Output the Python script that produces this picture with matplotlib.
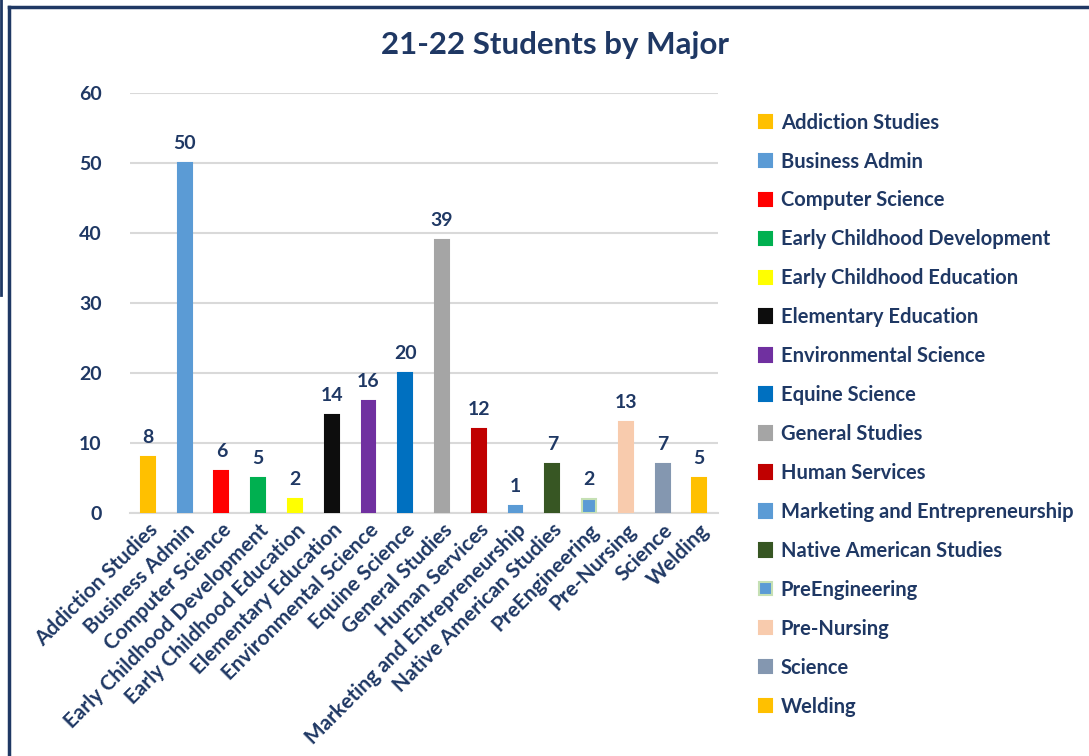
import numpy as np
import matplotlib.pyplot as plt
from matplotlib.patches import Rectangle
from matplotlib.lines import Line2D

# data
majors = ['Addiction Studies', 'Business Admin', 'Computer Science',
          'Early Childhood Development', 'Early Childhood Education',
          'Elementary Education', 'Environmental Science', 'Equine Science',
          'General Studies', 'Human Services', 'Marketing and Entrepreneurship',
          'Native American Studies', 'PreEngineering', 'Pre-Nursing',
          'Science', 'Welding']
students = [8, 50, 6, 5, 2, 14, 16, 20, 39, 12, 1, 7, 2, 13, 7, 5]
colors = ['#FFC000', '#5B9BD5', '#FF0000', '#00B050', '#FFFF00', '#0D0D0D',
          '#7030A0', '#0070C0', '#A5A5A5', '#C00000', '#5B9BD5', '#375623',
          '#5B9BD5', '#F8CBAD', '#8497B0', '#FFC000']
edges = [c if m != 'PreEngineering' else '#C5E0B4' for c, m in zip(colors, majors)]
yticks = [0, 10, 20, 30, 40, 50, 60]

navy = '#1F3864'
plt.rcParams['font.family'] = ['Lato', 'DejaVu Sans']
plt.rcParams['font.weight'] = 'bold'

fig = plt.figure(figsize=(10.89, 7.56), dpi=100)
ax = fig.add_axes([0.119, 0.3214, 0.540, 0.5556])

x = np.arange(len(majors))
ax.bar(x, students, width=0.38, color=colors, edgecolor=edges,
       linewidth=1.5, zorder=3)
for xi, v in zip(x, students):
    ax.text(xi, v + 1.6, str(v), ha='center', va='bottom', color=navy,
            fontsize=14, fontweight='bold')

ax.set_xlim(-0.5, len(majors) - 0.5)
ax.set_ylim(0, 60)
ax.set_yticks(yticks)
ax.set_xticks(x)
ax.set_xticklabels(majors, rotation=45, ha='right', rotation_mode='anchor')
ax.tick_params(axis='y', length=0, colors=navy, labelsize=14, pad=20)
ax.tick_params(axis='x', length=0, colors=navy, labelsize=15, pad=5)
for lbl in ax.get_xticklabels() + ax.get_yticklabels():
    lbl.set_fontweight('bold')
ax.grid(axis='y', color='#D9D9D9', linewidth=1.5, zorder=0)
for s in ['top', 'right', 'left']:
    ax.spines[s].set_visible(False)
ax.spines['bottom'].set_color('#D9D9D9')
ax.spines['bottom'].set_linewidth(1.5)

fig.text(0.51, 0.94, '21-22 Students by Major', ha='center', va='center',
         color=navy, fontsize=22.5, fontweight='bold')

# legend
handles = [Rectangle((0, 0), 1, 1, facecolor=c, edgecolor=e, linewidth=1.5)
           for c, e in zip(colors, edges)]
fig.legend(handles, majors, loc='upper left', bbox_to_anchor=(0.680, 0.875),
           frameon=False, labelcolor=navy, handlelength=0.65,
           handleheight=0.65, handletextpad=0.45, labelspacing=0.94,
           prop={'weight': 'bold', 'size': 14.5})

# frame
fig.add_artist(Line2D([0.0083, 1.0], [0.9907, 0.9907], color=navy, lw=2.5))
fig.add_artist(Line2D([0.0083, 0.0083], [0.0, 0.9907], color=navy, lw=2.5))
fig.add_artist(Line2D([0.0012, 0.0012], [0.61, 1.0], color=navy, lw=2))

fig.savefig('out.png', dpi=100)
